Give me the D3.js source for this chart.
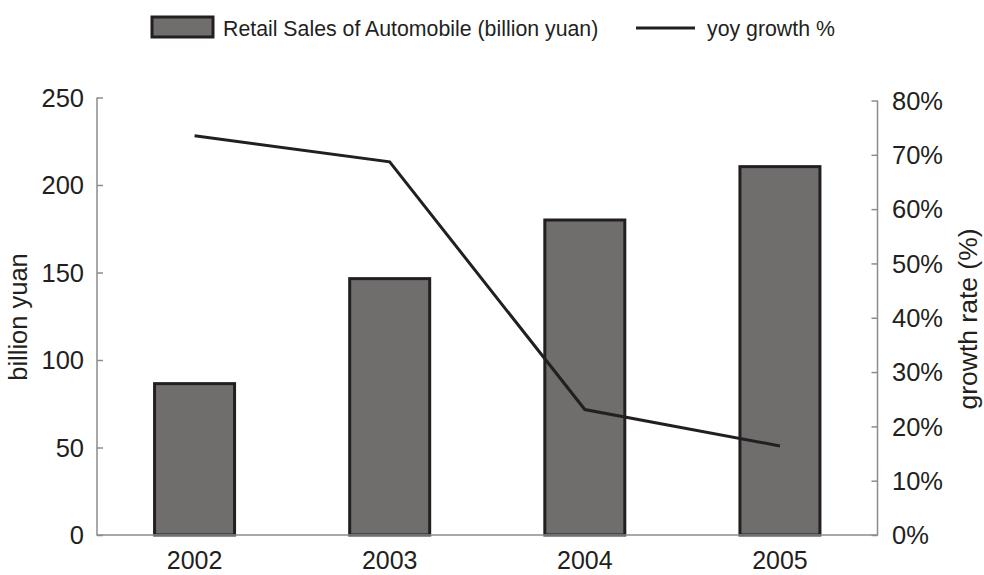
<!DOCTYPE html>
<html>
<head>
<meta charset="utf-8">
<script src="https://cdn.jsdelivr.net/npm/d3@7/dist/d3.min.js"></script>
<style>
  html, body { margin: 0; padding: 0; background: #ffffff; }
  svg { display: block; font-family: "Liberation Sans", Arial, Helvetica, sans-serif; }
</style>
</head>
<body>
<svg id="chart" width="984" height="575"></svg>
<script>
// Yearly data
const years = ["2002", "2003", "2004", "2005"];
const salesBillionYuan = [86.5, 146.5, 180, 210.5];
const yoyGrowthPct = [73.5, 68.7, 23.1, 16.4];
const leftTicks = [0, 50, 100, 150, 200, 250];
const rightTicks = [0, 10, 20, 30, 40, 50, 60, 70, 80];
const legendLabels = ["Retail Sales of Automobile (billion yuan)", "yoy growth %"];

const ink = "#231f20";
const axisGrey = "#8c8c8c";
const barFill = "#6f6e6c";

const svg = d3.select("#chart");

const plotLeft = 97, plotRight = 877.5, plotBottom = 535;

const x = d3.scaleBand()
  .domain(years)
  .range([plotLeft, plotRight])
  .paddingInner(0.59)
  .paddingOuter(0.295);

const yLeft = d3.scaleLinear().domain([0, 250]).range([plotBottom, 97.5]);
const yRight = d3.scaleLinear().domain([0, 80]).range([plotBottom, 100.5]);

// Bars
svg.append("g")
  .selectAll("rect")
  .data(years)
  .join("rect")
  .attr("x", d => x(d))
  .attr("width", x.bandwidth())
  .attr("y", (d, i) => yLeft(salesBillionYuan[i]))
  .attr("height", (d, i) => plotBottom - yLeft(salesBillionYuan[i]))
  .attr("fill", barFill)
  .attr("stroke", ink)
  .attr("stroke-width", 3);

// Axes (inward ticks, no labels from the generator)
const leftAxis = d3.axisRight(yLeft).tickValues(leftTicks).tickSize(6).tickFormat("");
const gL = svg.append("g").attr("transform", `translate(${plotLeft},0)`).call(leftAxis);
gL.select(".domain").remove();
gL.selectAll(".tick line").attr("stroke", axisGrey).attr("stroke-width", 1.5);

const rightAxis = d3.axisLeft(yRight).tickValues(rightTicks).tickSize(6).tickFormat("");
const gR = svg.append("g").attr("transform", `translate(${plotRight},0)`).call(rightAxis);
gR.select(".domain").remove();
gR.selectAll(".tick line").attr("stroke", axisGrey).attr("stroke-width", 1.5);

// Axis frame lines
svg.append("path")
  .attr("d", `M${plotLeft},${yLeft(250)}V${plotBottom}H${plotRight}V${yRight(80)}`)
  .attr("fill", "none")
  .attr("stroke", axisGrey)
  .attr("stroke-width", 1.5);

// Tick labels
svg.append("g")
  .selectAll("text")
  .data(leftTicks)
  .join("text")
  .attr("x", 84)
  .attr("y", d => yLeft(d))
  .attr("dy", "0.36em")
  .attr("text-anchor", "end")
  .attr("font-size", 25.5)
  .attr("fill", ink)
  .text(d => d);

svg.append("g")
  .selectAll("text")
  .data(rightTicks)
  .join("text")
  .attr("x", 892)
  .attr("y", d => yRight(d))
  .attr("dy", "0.36em")
  .attr("text-anchor", "start")
  .attr("font-size", 25.5)
  .attr("fill", ink)
  .text(d => d + "%");

svg.append("g")
  .selectAll("text")
  .data(years)
  .join("text")
  .attr("x", d => x(d) + x.bandwidth() / 2)
  .attr("y", 569)
  .attr("text-anchor", "middle")
  .attr("font-size", 25)
  .attr("fill", ink)
  .text(d => d);

// Axis titles
svg.append("text")
  .attr("transform", "translate(27,317) rotate(-90)")
  .attr("text-anchor", "middle")
  .attr("font-size", 25.5)
  .attr("fill", ink)
  .text("billion yuan");

svg.append("text")
  .attr("transform", "translate(977,319) rotate(-90)")
  .attr("text-anchor", "middle")
  .attr("font-size", 26.5)
  .attr("fill", ink)
  .text("growth rate (%)");

// Growth line
const line = d3.line()
  .x((d, i) => x(years[i]) + x.bandwidth() / 2)
  .y(d => yRight(d));

svg.append("path")
  .datum(yoyGrowthPct)
  .attr("d", line)
  .attr("fill", "none")
  .attr("stroke", ink)
  .attr("stroke-width", 3)
  .attr("stroke-linejoin", "miter");

// Legend
const legend = svg.append("g");
legend.append("rect")
  .attr("x", 152).attr("y", 17)
  .attr("width", 61).attr("height", 20)
  .attr("fill", barFill)
  .attr("stroke", ink)
  .attr("stroke-width", 3);
legend.append("text")
  .attr("x", 223).attr("y", 36)
  .attr("font-size", 21.3)
  .attr("fill", ink)
  .text(legendLabels[0]);
legend.append("line")
  .attr("x1", 636).attr("x2", 695)
  .attr("y1", 28).attr("y2", 28)
  .attr("stroke", ink)
  .attr("stroke-width", 3);
legend.append("text")
  .attr("x", 707).attr("y", 36)
  .attr("font-size", 21.3)
  .attr("fill", ink)
  .text(legendLabels[1]);
</script>
</body>
</html>
